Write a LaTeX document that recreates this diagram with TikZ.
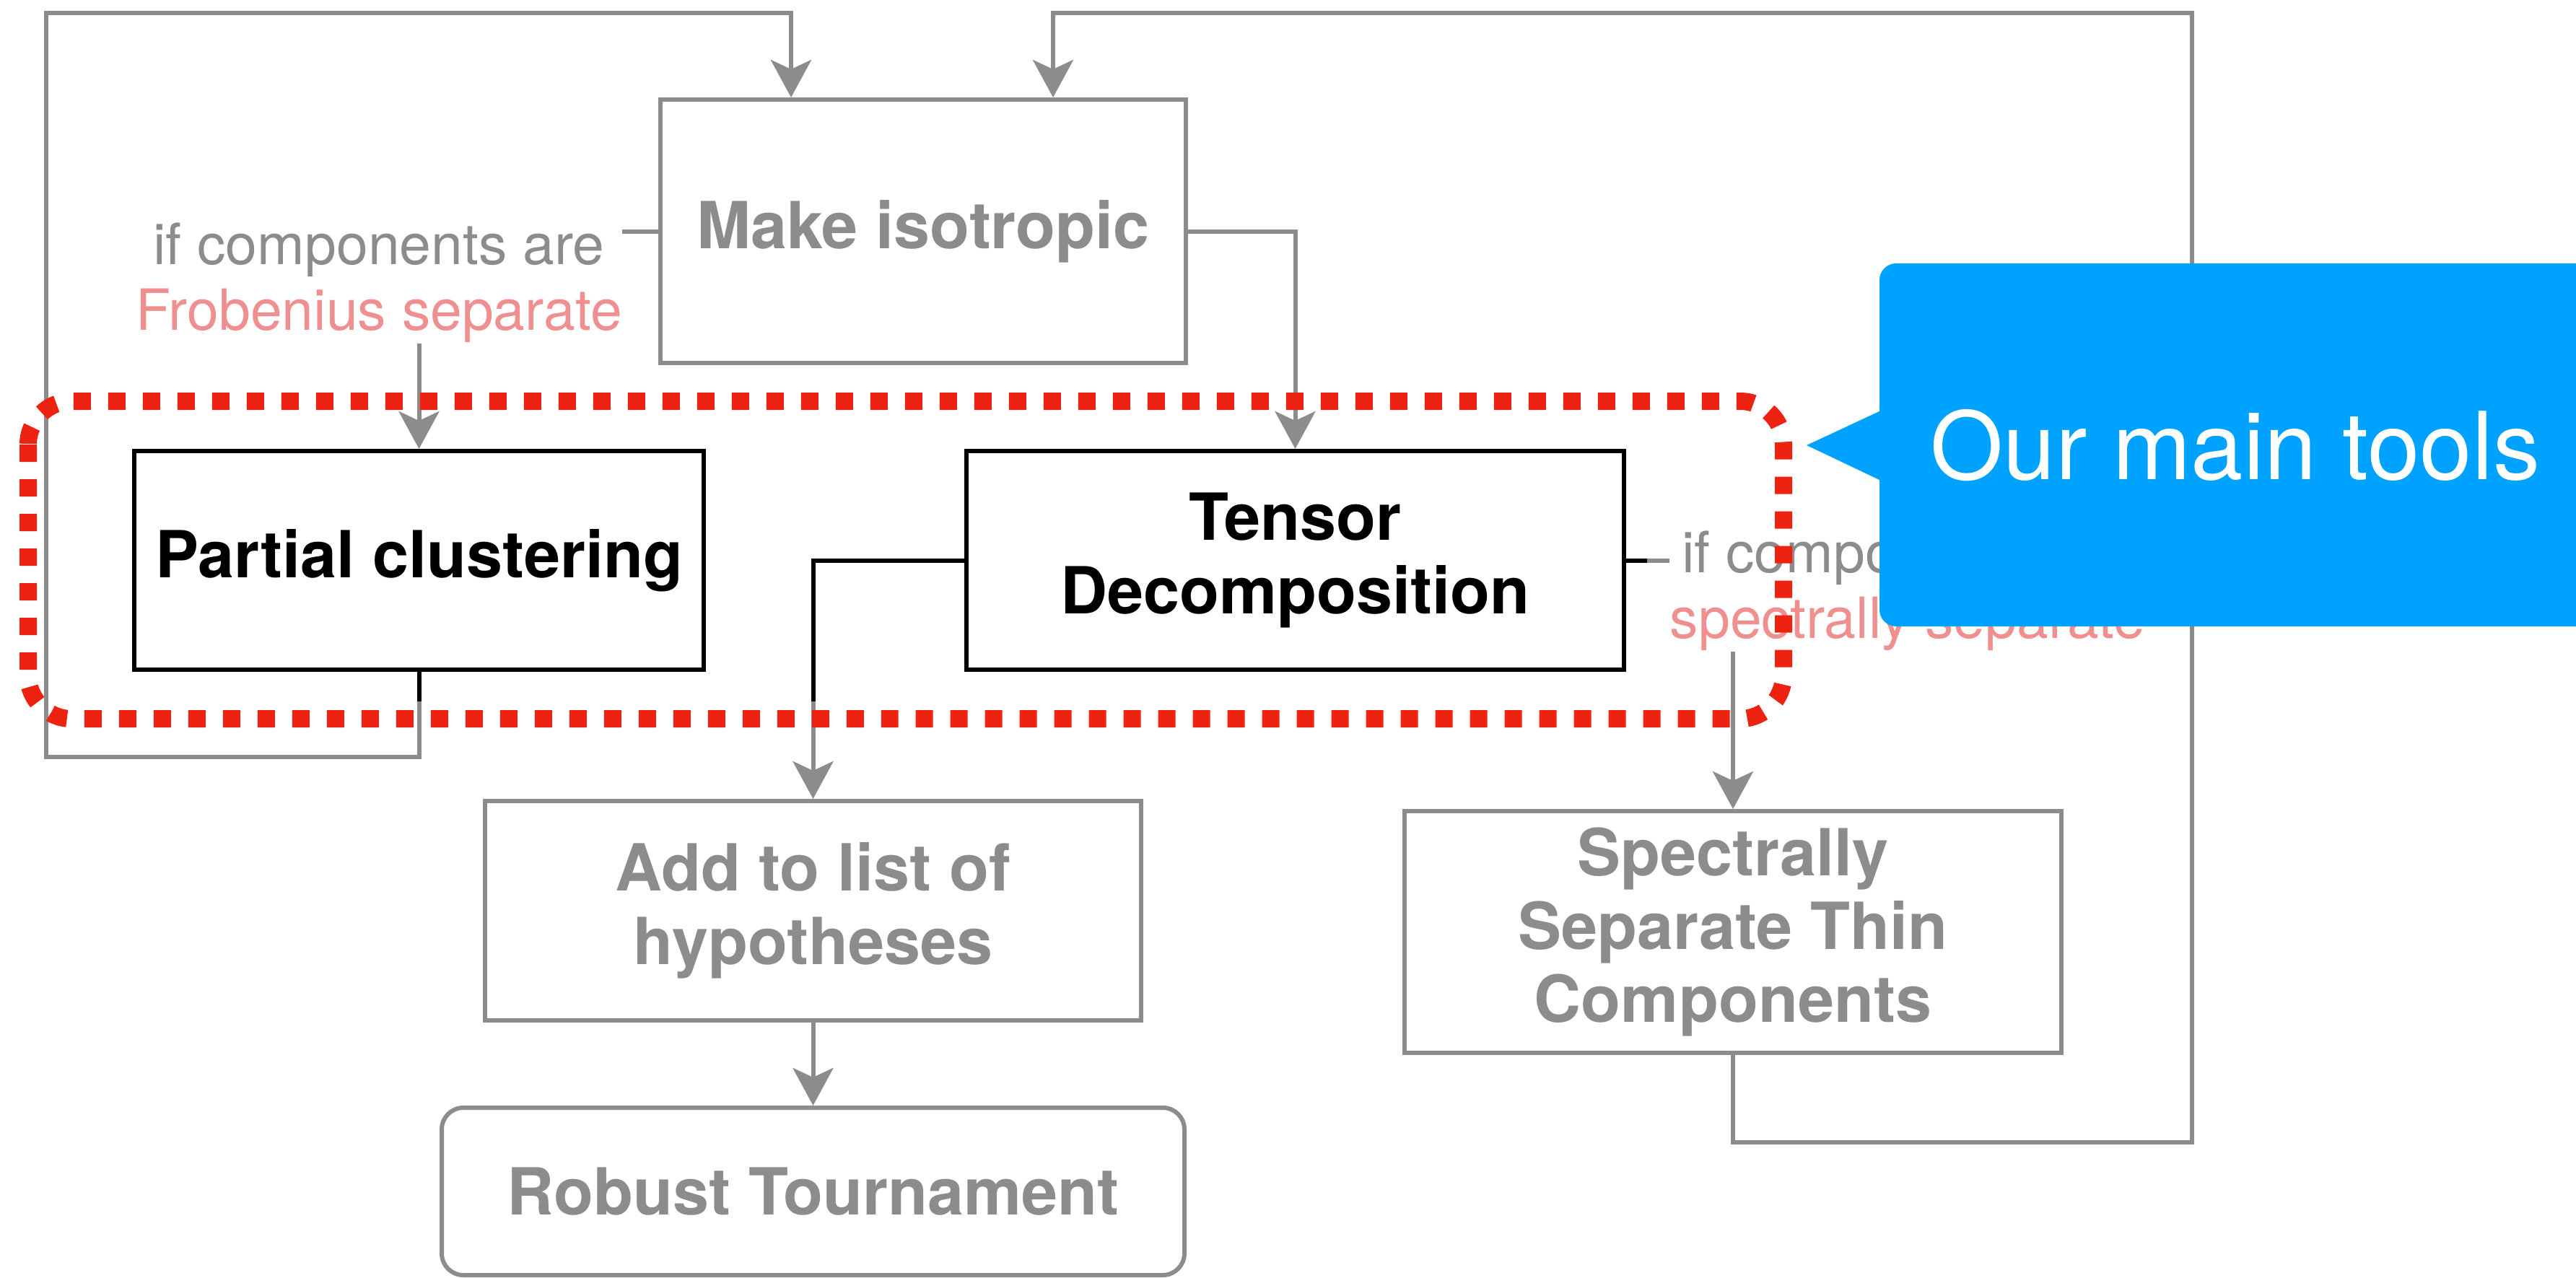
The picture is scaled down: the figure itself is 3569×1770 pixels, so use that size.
\documentclass[tikz,border=0pt]{standalone}
\usepackage{fontspec}
\setmainfont{TeX Gyre Heros}
\usetikzlibrary{arrows.meta}
\definecolor{flowgray}{HTML}{8C8C8C}
\definecolor{notepink}{HTML}{EF8F8F}
\definecolor{hlred}{HTML}{EE2211}
\definecolor{callblue}{HTML}{00A2FF}
\begin{document}
\begin{tikzpicture}[x=0.1mm, y=-0.1mm,
  box/.style={draw, rectangle, inner sep=0pt, align=center, line width=0.6mm,
    font=\fontsize{25.6}{29}\selectfont\bfseries},
  dimbox/.style={box, draw=flowgray, text=flowgray},
  keybox/.style={box, draw=black, text=black},
  note/.style={inner sep=0pt, align=center, text=flowgray,
    font=\fontsize{22.4}{26}\selectfont},
  link/.style={draw=flowgray, line width=0.6mm},
  keylink/.style={draw=black, line width=0.6mm},
  arr/.style={-{Stealth[length=5.2mm, width=5.6mm, inset=1.3mm]}},
]
% page
\useasboundingbox (0,0) rectangle (3569,1770);
\fill[white] (0,0) rectangle (3569,1770);

% process boxes
\node[dimbox, minimum width=72.8mm, minimum height=36.5mm] (iso) at (1279,320.5) {Make isotropic};
\node[keybox, minimum width=78.9mm, minimum height=30.3mm] (part) at (580.5,776.5) {Partial clustering};
\node[keybox, minimum width=91.1mm, minimum height=30.3mm] (tens) at (1794.5,776.5) {Tensor\\Decomposition};
\node[dimbox, minimum width=90.9mm, minimum height=30.4mm] (add) at (1126.5,1262) {Add to list of\\hypotheses};
\node[dimbox, minimum width=91mm, minimum height=33.5mm] (spec) at (2401,1291.5) {Spectrally\\Separate Thin\\Components};
\node[dimbox, rounded corners=3mm, minimum width=102.9mm, minimum height=23.2mm] (rob) at (1126.5,1651) {Robust Tournament};

% branch conditions
\node[note] (lblL) at (525,392) {if components are\\\textcolor{notepink}{Frobenius separate}};
\node[note] (lblR) at (2643,819) {if components are\\\textcolor{notepink}{spectrally separate}};

% helper points
\coordinate (loopTop) at (0,18);
\coordinate (inL) at ([xshift=-18.3mm]iso.north);
\coordinate (inR) at ([xshift=18mm]iso.north);
\coordinate (loopL) at (64,1049);
\coordinate (loopR) at (3037,1583);
\coordinate (cutP) at (part.south |- 0,972);
\coordinate (cutT) at (add.north |- 0,972);
\coordinate (cutR) at (tens.east -| 2282,0);

% connectors
\draw[link] (iso.west) -- (iso.west -| lblL.east);
\draw[link, arr] (part.north |- lblL.south) -- (part.north);
\draw[link, arr] (iso.east) -| (tens.north);

\draw[keylink] (part.south) -- (cutP);
\draw[link, arr] (cutP) |- (loopL) |- (inL |- loopTop) -- (inL);

\draw[keylink] (tens.west) -| (cutT);
\draw[link, arr] (cutT) -- (add.north);

\draw[keylink] (tens.east) -- (cutR);
\draw[link] (cutR) -- (tens.east -| lblR.west);
\draw[link, arr] (spec.north |- lblR.south) -- (spec.north);

\draw[link, arr] (spec.south) |- (loopR) |- (inR |- loopTop) -- (inR);
\draw[link, arr] (add.south) -- (rob.north);

% highlight frame
\draw[hlred, line width=2.4mm, dash pattern=on 2.4mm off 2.4mm, rounded corners=6mm]
  (39,556) rectangle (2471,996);

% callout
\fill[callblue, rounded corners=2.3mm] (2604,365) rectangle (3700,868);
\fill[callblue] (2503,617) -- (2608,568) -- (2608,667) -- cycle;
\node[anchor=west, inner sep=0pt, text=white, font=\fontsize{37}{40}\selectfont] (tools) at (2674,617) {Our main tools};
\end{tikzpicture}
\end{document}
